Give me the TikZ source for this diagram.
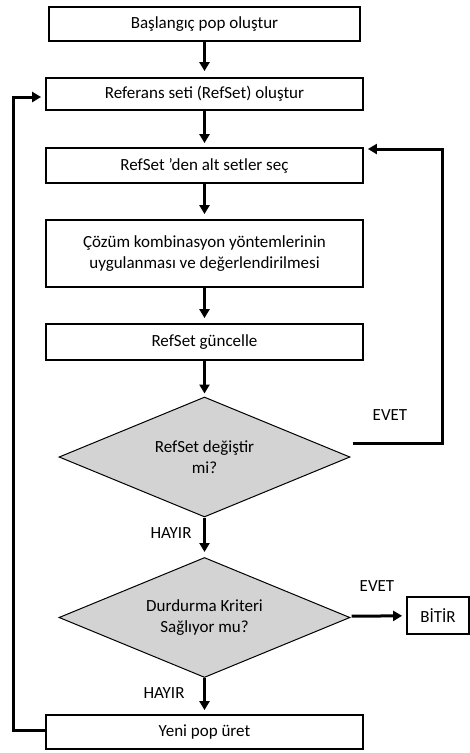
\documentclass[tikz,border=0pt]{standalone}
\usepackage{fontspec}
\setmainfont{Carlito}
\usepackage{xcolor}
\usetikzlibrary{shapes.geometric}
\usetikzlibrary{shapes,arrows.meta,positioning,calc}
\definecolor{diagray}{RGB}{211,211,211}
\tikzset{
  stepbox/.style={draw, rectangle, line width=1.8pt, inner sep=0pt, minimum width=317pt, minimum height=34pt, align=center},
  decision/.style={draw, diamond, fill=diagray, line width=1pt, inner sep=0pt, aspect=2.4, minimum width=291pt, minimum height=120pt, align=center},
  flow/.style={line width=3pt, -{Triangle[length=9pt,width=10pt]}},
  tag/.style={inner sep=0pt}
}

\begin{document}
\begin{tikzpicture}[x=1pt, y=-1pt, font=\fontsize{17}{21}\selectfont]
        \useasboundingbox (0,0) rectangle (470,753);
        \node[stepbox, minimum width=311pt] (b1) at (204.5,24) {Başlangıç pop oluştur} ;
        \node[stepbox, minimum height=32pt] (b2) at (204.5,94) {Referans seti (RefSet) oluştur} ;
        \node[stepbox, minimum height=35pt] (b3) at (204.5,165.5) {RefSet ’den alt setler seç} ;
        \node[stepbox, minimum height=67pt] (b4) at (204.5,253.5) {Çözüm kombinasyon yöntemlerinin\\uygulanması ve değerlendirilmesi} ;
        \node[stepbox, minimum height=36pt] (b5) at (204.5,342) {RefSet güncelle} ;
        \node[decision] (d1) at (204.5,457) {RefSet değiştir\\mi?} ;
        \node[decision] (d2) at (204.5,617.5) {Durdurma Kriteri\\Sağlıyor mu?} ;
        \node[stepbox, minimum height=34pt] (b6) at (204.5,732) {Yeni pop üret} ;
        \node[stepbox, minimum width=62pt, minimum height=37pt] (fin) at (438,615.5) {BİTİR} ;

        \node[tag] (e1) at (390,415) {EVET} ;
        \node[tag] (e2) at (377,586) {EVET} ;
        \node[tag] (h1) at (171,533) {HAYIR} ;
        \node[tag] (h2) at (164,693) {HAYIR} ;

        \coordinate (r1) at (442,443) ;
        \coordinate (r2) at (442,149) ;
        \coordinate (l1) at (13,730) ;
        \coordinate (l2) at (13,97) ;

        \draw[flow, shorten >=6pt] (b1) -- (b2);
        \draw[flow, shorten >=4pt] (b2) -- (b3);
        \draw[flow, shorten >=5pt] (b3) -- (b4);
        \draw[flow, shorten >=5pt] (b4) -- (b5);
        \draw[flow, shorten >=3pt] (b5) -- (d1);
        \draw[flow, shorten >=5pt] (d1) -- (d2);
        \draw[flow, shorten >=4pt] (d2) -- (b6);
        \draw[flow, shorten <=4pt, shorten >=4pt] (d2) -- (fin);
        \draw[flow, shorten >=4pt] (d1.east |- r1) ++(2,0) -- (r1) -- (r2) -- (b3.east |- r2);
        \draw[flow, shorten >=4pt] (b6.west |- l1) -- (l1) -- (l2) -- (b2.west |- l2);
    \end{tikzpicture}
\end{document}
